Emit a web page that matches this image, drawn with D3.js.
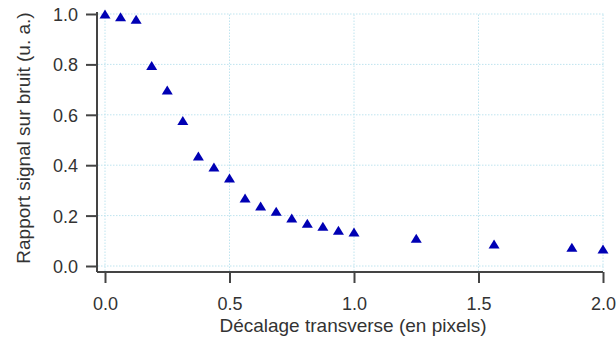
<!DOCTYPE html>
<html><head><meta charset="utf-8">
<script src="https://cdn.jsdelivr.net/npm/d3@7"></script>
<style>html,body{margin:0;padding:0;background:#fff;}svg{display:block;}</style>
</head><body>
<script>
const xValues = [0, 0.0625, 0.125, 0.1875, 0.25, 0.3125, 0.375, 0.4375, 0.5, 0.5625, 0.625, 0.6875, 0.75, 0.8125, 0.875, 0.9375, 1.0, 1.25, 1.5625, 1.875, 2.0];
const yValues = [1.0, 0.989, 0.979, 0.796, 0.698, 0.577, 0.437, 0.393, 0.349, 0.27, 0.238, 0.217, 0.19, 0.17, 0.158, 0.142, 0.135, 0.11, 0.087, 0.074, 0.067];
const xTicks = [0, 0.5, 1.0, 1.5, 2.0];
const yTicks = [0, 0.2, 0.4, 0.6, 0.8, 1.0];
const xTitle = "Décalage transverse (en pixels)";
const yTitle = "Rapport signal sur bruit (u. a.)";

const W = 616, H = 345;
const svg = d3.select("body").append("svg").attr("width", W).attr("height", H);
const x = d3.scaleLinear().domain([0, 2]).range([105, 603]);
const y = d3.scaleLinear().domain([0, 1]).range([266, 14]);
const axisX = 97, axisY = 272;
const font = "'Liberation Sans', Arial, sans-serif";
const textCol = "#333";
const axisCol = "#444";

// grid
const grid = svg.append("g");
grid.selectAll("line.h").data(yTicks).join("line")
  .attr("x1", axisX + 1).attr("x2", x(2) + 1)
  .attr("y1", d => y(d)).attr("y2", d => y(d))
  .attr("stroke", "#bfe4ef").attr("stroke-width", 1).attr("stroke-dasharray", "1.5,1.5");
grid.selectAll("line.v").data(xTicks).join("line")
  .attr("y1", axisY - 1).attr("y2", y(1) - 1)
  .attr("x1", d => x(d)).attr("x2", d => x(d))
  .attr("stroke", "#bfe4ef").attr("stroke-width", 1).attr("stroke-dasharray", "1.5,1.5");

// axes
const gx = svg.append("g").attr("transform", `translate(0,${axisY})`)
  .call(d3.axisBottom(x).tickValues(xTicks).tickFormat(d3.format(".1f")).tickSize(11).tickSizeOuter(0));
gx.select(".domain").attr("d", `M${axisX},0H${x(2)}`);
const gy = svg.append("g").attr("transform", `translate(${axisX},0)`)
  .call(d3.axisLeft(y).tickValues(yTicks).tickFormat(d3.format(".1f")).tickSize(11).tickSizeOuter(0));
gy.select(".domain").attr("d", `M0,${y(1) - 2}V${axisY}`);
[gx, gy].forEach(g => {
  g.select(".domain").attr("stroke", axisCol).attr("stroke-width", 2);
  g.selectAll(".tick line").attr("stroke", axisCol).attr("stroke-width", 2);
  g.selectAll(".tick text").attr("fill", textCol).attr("font-family", font).attr("font-size", 18);
});
gx.selectAll(".tick text").attr("dy", "0").attr("y", 38);
gy.selectAll(".tick text").attr("x", -19).attr("dy", "0.36em");

// titles
svg.append("text").attr("x", 353).attr("y", 332).attr("text-anchor", "middle")
  .attr("font-family", font).attr("font-size", 19).attr("fill", textCol).text(xTitle);
svg.append("text").attr("transform", "translate(30,138) rotate(-90)").attr("text-anchor", "middle")
  .attr("font-family", font).attr("font-size", 19).attr("fill", textCol).text(yTitle);

// points
const triType = { draw(ctx) { ctx.moveTo(0, -4.5); ctx.lineTo(5.5, 4.5); ctx.lineTo(-5.5, 4.5); ctx.closePath(); } };
const tri = d3.symbol().type(triType);
svg.append("g").selectAll("path").data(xValues.map((v, i) => [v, yValues[i]])).join("path")
  .attr("d", tri)
  .attr("transform", d => `translate(${x(d[0])},${y(d[1])})`)
  .attr("fill", "#0000b4");
</script>
</body></html>
